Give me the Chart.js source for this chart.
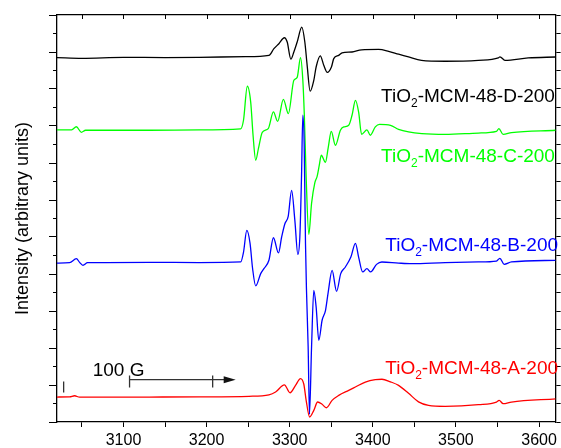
<!DOCTYPE html>
<html lang="en">
<head>
<meta charset="UTF-8">
<title>EPR spectra TiO2-MCM-48</title>
<script src="https://cdn.jsdelivr.net/npm/chart.js"></script>
<style>
  html, body { margin: 0; padding: 0; background: #fff; }
</style>
</head>
<body>
<canvas id="chart" width="561" height="448"></canvas>
<script>
// magnetic field (G) and offset intensity, one pair of arrays per sample
const fieldD = [3020, 3050, 3100, 3150, 3191, 3247, 3275, 3281, 3287, 3293.6, 3297, 3301.4, 3305, 3309, 3314.6, 3318.2, 3321, 3324.6, 3329, 3331.8, 3336.8, 3341, 3345.2, 3350.2, 3353, 3359, 3363, 3375, 3386.5, 3407, 3419, 3431, 3443, 3458.5, 3487, 3527, 3551, 3553, 3559, 3587, 3620];
const intD = [19.70, 19.66, 19.71, 19.70, 19.71, 19.75, 19.82, 20.18, 20.45, 20.77, 20.54, 19.61, 20.0, 20.54, 21.34, 20.54, 19.28, 17.88, 18.47, 19.19, 19.79, 19.28, 18.90, 19.19, 19.64, 19.82, 19.95, 20.0, 20.12, 20.14, 20.04, 19.88, 19.73, 19.55, 19.50, 19.55, 19.68, 19.74, 19.55, 19.68, 19.73];

const fieldC = [3020, 3037.6, 3043.3, 3049.3, 3054.4, 3131, 3191, 3241, 3244.4, 3249, 3253.1, 3255.9, 3259.1, 3262.4, 3267, 3274.2, 3280.4, 3285.5, 3292.4, 3298.4, 3305, 3309, 3313, 3315.8, 3317.6, 3319.8, 3323, 3326.3, 3330.2, 3333, 3335.6, 3338, 3343, 3346.4, 3350, 3355, 3361, 3365, 3371, 3375, 3379.1, 3383, 3386.5, 3392.9, 3397, 3403, 3408.1, 3421.3, 3431, 3443, 3459, 3487, 3527, 3548.8, 3551.7, 3556.8, 3566.8, 3620];
const intC = [15.79, 15.79, 15.96, 15.66, 15.77, 15.77, 15.79, 15.85, 16.31, 18.15, 17.28, 15.50, 14.15, 14.79, 15.66, 15.86, 16.76, 16.25, 17.44, 16.67, 18.47, 18.63, 19.69, 18.47, 16.58, 13.23, 10.15, 11.82, 12.93, 13.28, 13.88, 14.42, 14.04, 14.85, 15.71, 14.96, 15.77, 15.95, 16.04, 16.58, 17.39, 16.74, 15.55, 15.79, 15.50, 15.95, 16.09, 16.04, 15.82, 15.68, 15.59, 15.55, 15.62, 15.71, 15.86, 15.55, 15.64, 15.77];

const fieldB = [3020, 3035.2, 3043.3, 3047.2, 3051.2, 3056.8, 3131, 3191, 3241.1, 3244.4, 3248.4, 3252.3, 3255.3, 3259.1, 3265.1, 3269, 3275, 3280.4, 3286.5, 3290.3, 3294.2, 3298.2, 3302.3, 3306.2, 3309.8, 3312.2, 3314.2, 3315.8, 3317.4, 3319, 3320.2, 3322.2, 3323.8, 3326.3, 3329, 3331.8, 3335, 3339, 3343.1, 3346.3, 3351, 3356.4, 3361.4, 3367, 3373.6, 3379.1, 3383, 3387.8, 3392.9, 3397.4, 3404.5, 3410.9, 3431, 3447, 3487, 3527, 3548.8, 3552.9, 3558, 3566.8, 3620];
const intB = [8.59, 8.61, 8.83, 8.63, 8.47, 8.61, 8.63, 8.62, 8.65, 9.17, 10.36, 9.66, 8.31, 7.36, 8.02, 8.29, 8.74, 9.96, 9.14, 10.0, 10.72, 11.12, 12.52, 10.90, 9.06, 10.0, 13.24, 16.58, 15.06, 9.66, 7.12, 4.05, 0.42, 4.05, 7.12, 6.22, 4.42, 5.50, 6.04, 7.01, 8.20, 7.06, 8.02, 8.38, 8.92, 9.66, 8.90, 8.11, 8.29, 8.11, 8.52, 8.65, 8.59, 8.56, 8.62, 8.65, 8.70, 8.85, 8.52, 8.65, 8.74];

const fieldA = [3020, 3035.2, 3041.2, 3047.2, 3131, 3191, 3251, 3275, 3283, 3293.6, 3300.4, 3307, 3313, 3317, 3319.8, 3324, 3329, 3333.6, 3339, 3344, 3351, 3359, 3371, 3379, 3391, 3403, 3411, 3421.3, 3431, 3443, 3455, 3467, 3487, 3527, 3548.8, 3552, 3556.8, 3566.8, 3620];
const intA = [1.35, 1.36, 1.42, 1.34, 1.35, 1.36, 1.39, 1.47, 1.62, 2.01, 1.58, 1.98, 2.35, 2.04, 1.17, 0.27, 0.63, 1.08, 0.96, 0.77, 1.17, 1.44, 1.71, 1.89, 2.16, 2.29, 2.31, 2.17, 1.98, 1.55, 1.09, 0.90, 0.85, 0.94, 1.08, 1.17, 0.99, 1.08, 1.25];

const sampleNames = ['TiO2-MCM-48-D-200', 'TiO2-MCM-48-C-200', 'TiO2-MCM-48-B-200', 'TiO2-MCM-48-A-200'];
const xTicks = [3050, 3100, 3150, 3200, 3250, 3300, 3350, 3400, 3450, 3500, 3550, 3600];
const xTickLabels = ['3100', '3200', '3300', '3400', '3500', '3600'];
const scaleBarText = '100 G';

const FONT = '"Liberation Sans", Arial, sans-serif';
const toPoints = (xs, ys) => xs.map((v, i) => ({x: v, y: ys[i]}));

// names, annotation and the 100 G bar, placed through the scales
const annotations = {
  id: 'annotations',
  afterDraw(chart) {
    const {ctx, chartArea, scales: {x, y}} = chart;
    ctx.save();

    // inward ticks on the top frame
    ctx.strokeStyle = '#000';
    ctx.lineWidth = 1;
    x.ticks.forEach(t => {
      const px = Math.round(x.getPixelForValue(t.value)) + 0.5;
      ctx.beginPath();
      ctx.moveTo(px, chartArea.top);
      ctx.lineTo(px, chartArea.top + 4);
      ctx.stroke();
    });

    // sample names with subscript 2
    const colors = ['#000000', '#00ff00', '#0000ff', '#ff0000'];
    const at = [[3410, 17.3], [3410, 14.05], [3415, 9.24], [3415, 2.62]];
    sampleNames.forEach((name, i) => {
      let px = x.getPixelForValue(at[i][0]);
      const py = y.getPixelForValue(at[i][1]);
      ctx.fillStyle = colors[i];
      ctx.textBaseline = 'alphabetic';
      ctx.textAlign = 'left';
      ctx.font = '19px ' + FONT;
      ctx.fillText(name.slice(0, 3), px, py);
      px += ctx.measureText(name.slice(0, 3)).width;
      ctx.font = '12px ' + FONT;
      ctx.fillText(name[3], px, py + 5);
      px += ctx.measureText(name[3]).width;
      ctx.font = '19px ' + FONT;
      ctx.fillText(name.slice(4), px, py);
    });

    // 100 G scale bar
    ctx.fillStyle = '#000';
    ctx.font = '19px ' + FONT;
    ctx.fillText(scaleBarText, x.getPixelForValue(3063), y.getPixelForValue(2.49));
    const by = y.getPixelForValue(2.29);
    const b0 = x.getPixelForValue(3107.3), b1 = x.getPixelForValue(3207.3), tip = x.getPixelForValue(3235);
    ctx.strokeStyle = '#333';
    ctx.fillStyle = '#111';
    ctx.lineWidth = 1.3;
    ctx.beginPath();
    ctx.moveTo(b0, by); ctx.lineTo(tip - 8, by);
    [b0, b1].forEach(bx => {
      ctx.moveTo(bx, y.getPixelForValue(2.52));
      ctx.lineTo(bx, y.getPixelForValue(1.86));
    });
    const mx = x.getPixelForValue(3028);
    ctx.moveTo(mx, y.getPixelForValue(2.19));
    ctx.lineTo(mx, y.getPixelForValue(1.59));
    ctx.stroke();
    ctx.beginPath();
    ctx.moveTo(tip, by);
    ctx.lineTo(tip - 12, by - 3.5);
    ctx.lineTo(tip - 12, by + 3.5);
    ctx.closePath();
    ctx.fill();

    ctx.restore();
  }
};

const line = (data, color) => ({
  data, borderColor: color, borderWidth: 1.3, pointRadius: 0,
  cubicInterpolationMode: 'monotone', fill: false
});

new Chart(document.getElementById('chart'), {
  type: 'line',
  data: {
    datasets: [
      line(toPoints(fieldB, intB), '#0000ff'),
      line(toPoints(fieldA, intA), '#ff0000'),
      line(toPoints(fieldC, intC), '#00ff00'),
      line(toPoints(fieldD, intD), '#000000')
    ]
  },
  options: {
    responsive: false,
    animation: false,
    events: [],
    layout: { padding: { top: 15, left: 0, right: 0, bottom: 0 } },
    plugins: { legend: { display: false }, tooltip: { enabled: false } },
    scales: {
      x: {
        type: 'linear', position: 'bottom', min: 3020, max: 3620,
        border: { color: '#000', width: 1.3 },
        grid: { drawOnChartArea: false, tickLength: 5, tickColor: '#000', tickWidth: 1 },
        ticks: {
          autoSkip: false, maxRotation: 0,
          color: '#000', font: { family: FONT, size: 16 }, padding: 4,
          callback: v => xTickLabels.includes(String(v)) ? String(v) : ''
        },
        afterBuildTicks: s => { s.ticks = xTicks.map(v => ({value: v})); },
        afterFit: s => { s.height = 26; }
      },
      x2: {
        type: 'linear', position: 'top', min: 3020, max: 3620,
        border: { color: '#000', width: 1.3 },
        grid: { drawOnChartArea: false, drawTicks: false },
        ticks: { display: false },
        afterFit: s => { s.height = 0; }
      },
      y: {
        type: 'linear', position: 'left', min: 0, max: 22,
        border: { color: '#000', width: 1.3 },
        grid: {
          drawOnChartArea: false, tickLength: 8, tickColor: '#000', tickWidth: 1,
          tickBorderDash: c => (c.tick && c.tick.value % 2 !== 0) ? [0, 4, 4, 100] : []
        },
        ticks: { stepSize: 1, display: false },
        title: {
          display: true, text: 'Intensity (arbitrary units)', color: '#000',
          font: { family: FONT, size: 18 }, padding: { top: 12, bottom: 0 }
        },
        afterFit: s => { s.width = 57; }
      },
      y2: {
        type: 'linear', position: 'right', min: 0, max: 22,
        border: { color: '#000', width: 1.3 },
        grid: { drawOnChartArea: false, tickLength: 5, tickColor: '#000', tickWidth: 1 },
        ticks: { stepSize: 1, display: false },
        afterFit: s => { s.width = 5; }
      }
    }
  },
  plugins: [annotations]
});
</script>
</body>
</html>
